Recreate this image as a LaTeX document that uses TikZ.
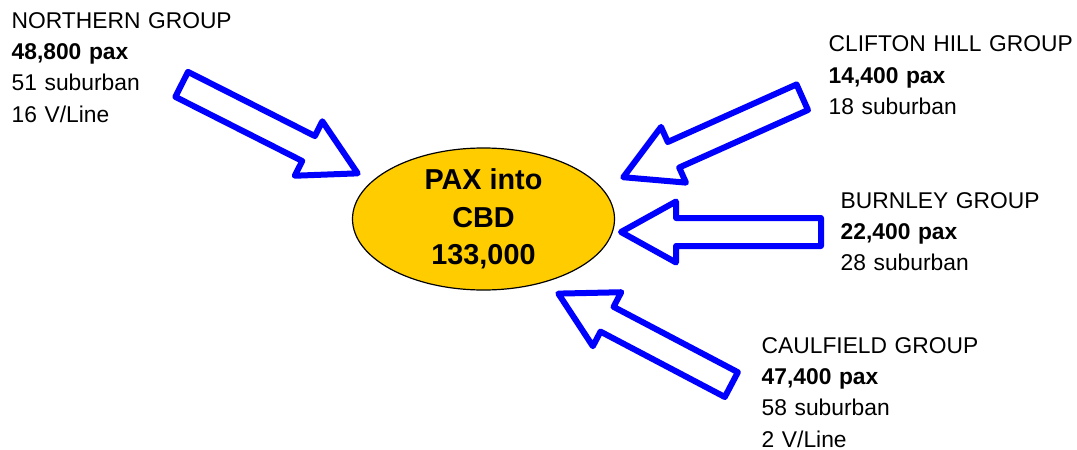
\documentclass[tikz,border=0pt]{standalone}
\usepackage{fontspec}
\setmainfont{Liberation Sans}
\usetikzlibrary{shapes, calc}

\definecolor{cbdgold}{HTML}{FFCC00}

\begin{document}
\begin{tikzpicture}[x=1pt, y=-1pt]
% styles
\tikzstyle{hub} = [ellipse, draw=black, line width=1.2pt, fill=cbdgold, minimum width=262pt, minimum height=142pt, inner sep=0pt, align=center, font=\fontsize{28.8}{37.5}\selectfont\bfseries]
\tikzstyle{group} = [anchor=base west, text width=260pt, align=left, inner sep=0pt, font=\fontsize{22.8}{31.4}\selectfont]
\tikzstyle{flow} = [single arrow, draw=blue, fill=white, line width=6pt, line join=round, minimum width=55pt, single arrow head extend=16.5pt, single arrow tip angle=58, inner xsep=0pt, inner ysep=11pt, anchor=tail]

\useasboundingbox (0,0) rectangle (1077,450);

% centre
\node [hub] (cbd) at (483.5,219) {PAX into\\CBD\\133,000};

% line groups
\node [group] (northern) at (11.5,28) {NORTHERN GROUP\\\textbf{48,800 pax}\\51 suburban\\16 V/Line};
\node [group] (clifton) at (828.5,51.7) {CLIFTON HILL GROUP\\\textbf{14,400 pax}\\18 suburban};
\node [group] (burnley) at (840.5,208) {BURNLEY GROUP\\\textbf{22,400 pax}\\28 suburban};
\node [group] (caulfield) at (761.5,353) {CAULFIELD GROUP\\\textbf{47,400 pax}\\58 suburban\\2 V/Line};

% arrow ends
\coordinate (ntail) at (179,83);
\coordinate (ntip) at (355,172);
\coordinate (ctail) at (805,96);
\coordinate (ctip) at (626,176);
\coordinate (btail) at (824,232);
\coordinate (btip) at (624,232);
\coordinate (stail) at (734,386);
\coordinate (stip) at (561,295);

% flows into the CBD
\path let \p1 = ($(ntip)-(ntail)$) in node [flow, minimum height={veclen(\x1,\y1)}, rotate={atan2(\y1,\x1)}] (northflow) at (ntail) {};
\path let \p1 = ($(ctip)-(ctail)$) in node [flow, minimum height={veclen(\x1,\y1)}, rotate={atan2(\y1,\x1)}] (cliftonflow) at (ctail) {};
\path let \p1 = ($(btip)-(btail)$) in node [flow, minimum height={veclen(\x1,\y1)}, rotate={atan2(\y1,\x1)}] (burnleyflow) at (btail) {};
\path let \p1 = ($(stip)-(stail)$) in node [flow, minimum height={veclen(\x1,\y1)}, rotate={atan2(\y1,\x1)}] (caulfieldflow) at (stail) {};
\end{tikzpicture}
\end{document}
